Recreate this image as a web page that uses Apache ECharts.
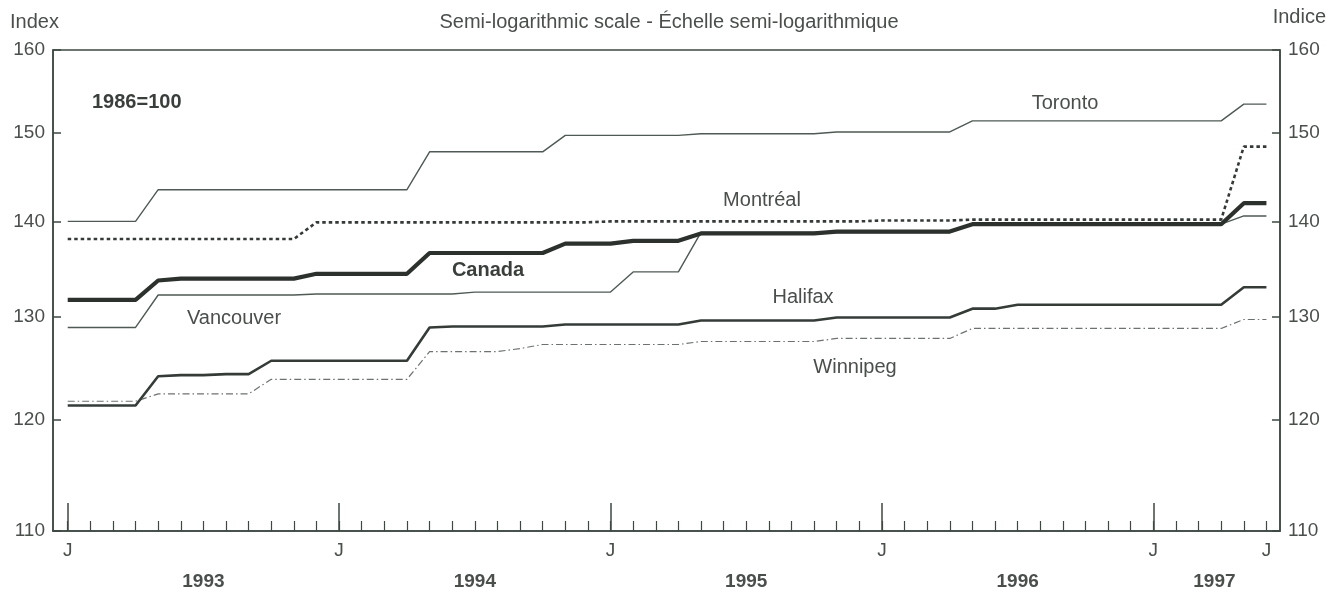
<!DOCTYPE html>
<html>
<head>
<meta charset="utf-8">
<script src="https://cdn.jsdelivr.net/npm/echarts@6/dist/echarts.min.js"></script>
<style>
html,body{margin:0;padding:0;background:#fff;}
#chart{width:1339px;height:594px;}
</style>
</head>
<body>
<div id="chart"></div>
<script>
// Month index 0 = January 1993 ... 53 = June 1997
const monthIndex = Array.from({length: 54}, (_, i) => i);

const canada = [131.7,131.7,131.7,131.7,133.7,133.9,133.9,133.9,133.9,133.9,133.9,134.4,134.4,134.4,134.4,134.4,136.6,136.6,136.6,136.6,136.6,136.6,137.6,137.6,137.6,137.9,137.9,137.9,138.7,138.7,138.7,138.7,138.7,138.7,138.9,138.9,138.9,138.9,138.9,138.9,139.7,139.7,139.7,139.7,139.7,139.7,139.7,139.7,139.7,139.7,139.7,139.7,142.0,142.0];
const toronto = [140.0,140.0,140.0,140.0,143.5,143.5,143.5,143.5,143.5,143.5,143.5,143.5,143.5,143.5,143.5,143.5,147.8,147.8,147.8,147.8,147.8,147.8,149.7,149.7,149.7,149.7,149.7,149.7,149.9,149.9,149.9,149.9,149.9,149.9,150.1,150.1,150.1,150.1,150.1,150.1,151.4,151.4,151.4,151.4,151.4,151.4,151.4,151.4,151.4,151.4,151.4,151.4,153.4,153.4];
const montreal = [138.1,138.1,138.1,138.1,138.1,138.1,138.1,138.1,138.1,138.1,138.1,139.9,139.9,139.9,139.9,139.9,139.9,139.9,139.9,139.9,139.9,139.9,139.9,139.9,140.0,140.0,140.0,140.0,140.0,140.0,140.0,140.0,140.0,140.0,140.0,140.0,140.1,140.1,140.1,140.1,140.2,140.2,140.2,140.2,140.2,140.2,140.2,140.2,140.2,140.2,140.2,140.2,148.4,148.4];
const vancouver = [128.9,128.9,128.9,128.9,132.2,132.2,132.2,132.2,132.2,132.2,132.2,132.3,132.3,132.3,132.3,132.3,132.3,132.3,132.5,132.5,132.5,132.5,132.5,132.5,132.5,134.6,134.6,134.6,138.8,138.8,138.8,138.8,138.8,138.8,138.8,138.8,138.8,138.8,138.8,138.8,139.7,139.7,139.7,139.7,139.7,139.7,139.7,139.7,139.7,139.7,139.7,139.7,140.6,140.6];
const halifax = [121.3,121.3,121.3,121.3,124.1,124.2,124.2,124.3,124.3,125.6,125.6,125.6,125.6,125.6,125.6,125.6,128.9,129.0,129.0,129.0,129.0,129.0,129.2,129.2,129.2,129.2,129.2,129.2,129.6,129.6,129.6,129.6,129.6,129.6,129.9,129.9,129.9,129.9,129.9,129.9,130.8,130.8,131.2,131.2,131.2,131.2,131.2,131.2,131.2,131.2,131.2,131.2,133.0,133.0];
const winnipeg = [121.7,121.7,121.7,121.7,122.4,122.4,122.4,122.4,122.4,123.8,123.8,123.8,123.8,123.8,123.8,123.8,126.5,126.5,126.5,126.5,126.8,127.2,127.2,127.2,127.2,127.2,127.2,127.2,127.5,127.5,127.5,127.5,127.5,127.5,127.8,127.8,127.8,127.8,127.8,127.8,128.8,128.8,128.8,128.8,128.8,128.8,128.8,128.8,128.8,128.8,128.8,128.8,129.7,129.7];

const yTicks = [110, 120, 130, 140, 150, 160];
const monthTickPos = monthIndex;
const januaryPos = [0, 12, 24, 36, 48];
const monthLabelPos = [0, 12, 24, 36, 48, 53];
const monthLabelText = ['J', 'J', 'J', 'J', 'J', 'J'];
const yearLabelPos = [6, 18, 30, 42, 50.7];
const yearLabelText = ['1993', '1994', '1995', '1996', '1997'];

const FONT = "'Liberation Sans', Arial, Helvetica, sans-serif";
const AX = '#3e4843';
const TXT = '#4a4f4c';

function pairs(arr) { return arr.map((v, i) => [monthIndex[i], v]); }

const chart = echarts.init(document.getElementById('chart'), null, {renderer: 'canvas'});

const yAxisCommon = {
  type: 'log',
  min: 110,
  max: 160,
  axisLine: {show: true, onZero: false, lineStyle: {color: AX, width: 1.5}},
  axisTick: {show: true, inside: true, length: 8, customValues: yTicks, lineStyle: {color: AX, width: 1.5}},
  axisLabel: {customValues: yTicks, fontFamily: FONT, fontSize: 19, color: TXT, formatter: v => String(Math.round(v))},
  splitLine: {show: false},
  minorTick: {show: false}
};

const option = {
  animation: false,
  backgroundColor: '#ffffff',
  grid: {left: 53, right: 59, top: 50, bottom: 63, show: true, borderColor: AX, borderWidth: 1.5, outerBoundsMode: 'none', containLabel: false},
  xAxis: [
    {
      type: 'value', min: -0.65, max: 53.6, position: 'bottom',
      axisLine: {show: true, onZero: false, lineStyle: {color: AX, width: 1.5}},
      axisTick: {show: true, inside: true, length: 10, customValues: monthTickPos, lineStyle: {color: AX, width: 1.2}},
      axisLabel: {customValues: monthLabelPos, margin: 10, fontFamily: FONT, fontSize: 19, color: TXT,
        formatter: v => monthLabelText[monthLabelPos.indexOf(v)] || ''},
      splitLine: {show: false}
    },
    {
      type: 'value', min: -0.65, max: 53.6, position: 'bottom',
      axisLine: {show: false, onZero: false},
      axisTick: {show: true, inside: true, length: 28, customValues: januaryPos, lineStyle: {color: AX, width: 1.5}},
      axisLabel: {customValues: yearLabelPos, margin: 41, fontFamily: FONT, fontSize: 19, fontWeight: 'bold', color: TXT,
        formatter: v => yearLabelText[yearLabelPos.indexOf(v)] || ''},
      splitLine: {show: false}
    }
  ],
  yAxis: [
    Object.assign({position: 'left'}, yAxisCommon),
    Object.assign({position: 'right'}, yAxisCommon, {axisLabel: Object.assign({}, yAxisCommon.axisLabel, {margin: 8})})
  ],
  series: [
    {name: 'Winnipeg', type: 'line', data: pairs(winnipeg), symbol: 'none', lineStyle: {color: '#6d726f', width: 1.2, type: [7, 3, 1.5, 3]}, z: 2},
    {name: 'Vancouver', type: 'line', data: pairs(vancouver), symbol: 'none', lineStyle: {color: '#4f5a54', width: 1.4}, z: 2},
    {name: 'Toronto', type: 'line', data: pairs(toronto), symbol: 'none', lineStyle: {color: '#4f5a54', width: 1.4}, z: 2},
    {name: 'Halifax', type: 'line', data: pairs(halifax), symbol: 'none', lineStyle: {color: '#353c38', width: 2.6}, z: 3},
    {name: 'Montréal', type: 'line', data: pairs(montreal), symbol: 'none', lineStyle: {color: '#353a37', width: 2.6, type: [3.5, 3]}, z: 3},
    {name: 'Canada', type: 'line', data: pairs(canada), symbol: 'none', lineStyle: {color: '#2c312e', width: 4.2}, z: 4}
  ],
  graphic: [
    {type: 'text', x: 10, y: 22, style: {text: 'Index', font: `20px ${FONT}`, fill: TXT, verticalAlign: 'middle'}},
    {type: 'text', x: 1326, y: 17, style: {text: 'Indice', font: `20px ${FONT}`, fill: TXT, align: 'right', verticalAlign: 'middle'}},
    {type: 'text', x: 669, y: 22, style: {text: 'Semi-logarithmic scale - Échelle semi-logarithmique', font: `20px ${FONT}`, fill: TXT, align: 'center', verticalAlign: 'middle'}},
    {type: 'text', x: 92, y: 102, style: {text: '1986=100', font: `bold 20px ${FONT}`, fill: '#3a3f3c', verticalAlign: 'middle'}},
    {type: 'text', x: 1065, y: 103, style: {text: 'Toronto', font: `20px ${FONT}`, fill: TXT, align: 'center', verticalAlign: 'middle'}},
    {type: 'text', x: 762, y: 200, style: {text: 'Montréal', font: `20px ${FONT}`, fill: TXT, align: 'center', verticalAlign: 'middle'}},
    {type: 'text', x: 488, y: 270, style: {text: 'Canada', font: `bold 20px ${FONT}`, fill: '#3a3f3c', align: 'center', verticalAlign: 'middle'}},
    {type: 'text', x: 234, y: 318, style: {text: 'Vancouver', font: `20px ${FONT}`, fill: TXT, align: 'center', verticalAlign: 'middle'}},
    {type: 'text', x: 803, y: 297, style: {text: 'Halifax', font: `20px ${FONT}`, fill: TXT, align: 'center', verticalAlign: 'middle'}},
    {type: 'text', x: 855, y: 367, style: {text: 'Winnipeg', font: `20px ${FONT}`, fill: TXT, align: 'center', verticalAlign: 'middle'}}
  ]
};

chart.setOption(option);
</script>
</body>
</html>
